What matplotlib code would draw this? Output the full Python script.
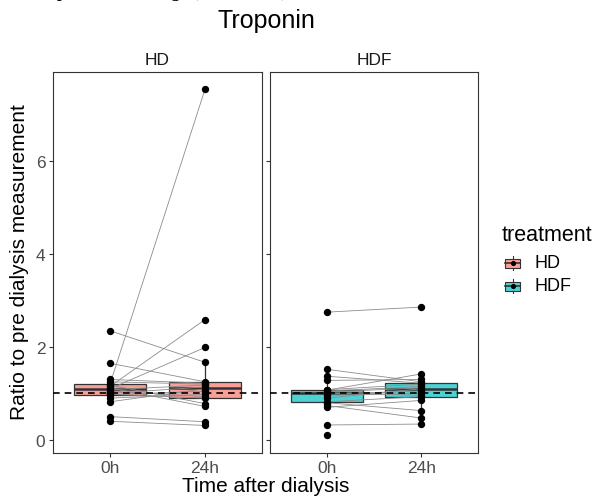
import numpy as np
import matplotlib.pyplot as plt
from matplotlib.patches import Rectangle
from matplotlib.colors import to_rgb

plt.rcParams['font.family'] = ['Liberation Sans', 'DejaVu Sans']

times = ['0h', '24h']
treatments = ['HD', 'HDF']
fill_colors = {'HD': '#F8766D', 'HDF': '#00BFC4'}

# ratio to pre dialysis value, one entry per patient (0h, 24h)
hd_0h = [2.35, 1.65, 1.20, 1.15, 1.10, 0.50, 0.40, 1.30, 1.25, 1.18, 1.12,
         1.08, 1.05, 1.00, 0.98, 0.97, 0.90, 0.82]
hd_24h = [1.67, 1.25, 7.55, 2.59, 1.99, 0.39, 0.31, 1.22, 1.20, 0.78, 0.72,
          1.18, 0.93, 1.14, 0.90, 1.05, 0.98, 1.10]
hdf_0h = [2.75, 1.52, 1.37, 1.28, 1.08, 1.07, 1.05, 1.03, 1.01, 0.99, 0.96,
          0.90, 0.82, 0.80, 0.74, 0.70, 0.32, 0.10]
hdf_24h = [2.86, 1.25, 1.22, 1.30, 1.20, 1.42, 1.15, 1.12, 0.96, 1.05, 1.00,
           1.10, 0.93, 0.63, 0.47, 0.85, 0.34, np.nan]

data = {'HD': (hd_0h, hd_24h), 'HDF': (hdf_0h, hdf_24h)}

W, H = 595, 502
fig = plt.figure(figsize=(W / 100, H / 100), dpi=100)


def px_axes(x0, y0, x1, y1):
    return fig.add_axes([x0 / W, 1 - y1 / H, (x1 - x0) / W, (y1 - y0) / H])


allv = np.array(hd_0h + hd_24h + hdf_0h + hdf_24h, dtype=float)
lo, hi = np.nanmin(allv), np.nanmax(allv)
pad = 0.05 * (hi - lo)

panels = {'HD': (53, 262), 'HDF': (270, 478)}
top, bottom = 73, 453.5
grey20 = '#333333'

for k, trt in enumerate(treatments):
    x0, x1 = panels[trt]
    ax = px_axes(x0, top, x1, bottom)
    v0 = np.array(data[trt][0], dtype=float)
    v1 = np.array(data[trt][1], dtype=float)
    rgb = to_rgb(fill_colors[trt])

    bp = ax.boxplot([v0[~np.isnan(v0)], v1[~np.isnan(v1)]], positions=[1, 2],
                    widths=0.76, patch_artist=True, showfliers=False,
                    showcaps=False, whis=1.5, zorder=1)
    for b in bp['boxes']:
        b.set_facecolor((*rgb, 0.7))
        b.set_edgecolor(grey20)
        b.set_linewidth(0.9)
    for m in bp['medians']:
        m.set_color(grey20)
        m.set_linewidth(1.8)
    for w in bp['whiskers']:
        w.set_color(grey20)
        w.set_linewidth(0.9)

    for a, b in zip(v0, v1):
        if np.isnan(a) or np.isnan(b):
            continue
        ax.plot([1, 2], [a, b], color='#8C8C8C', lw=0.6, zorder=2)
    ax.scatter(np.ones(len(v0)), v0, s=28, color='black', zorder=3, linewidths=0)
    ax.scatter(np.full(len(v1), 2), v1, s=28, color='black', zorder=3, linewidths=0)

    ax.axhline(1, color='black', ls=(0, (4, 3)), lw=1.2, zorder=4)

    ax.set_xlim(0.4, 2.6)
    ax.set_ylim(lo - pad, hi + pad)
    ax.set_xticks([1, 2])
    ax.set_xticklabels(times)
    ax.set_yticks([0, 2, 4, 6])
    if k > 0:
        ax.set_yticklabels([])
        ax.tick_params(axis='y', length=0)
    ax.tick_params(colors=grey20, labelcolor='#4D4D4D', labelsize=12.5,
                   length=3, width=0.8, pad=2.5)
    for s in ax.spines.values():
        s.set_color(grey20)
        s.set_linewidth(0.8)
    ax.text(0.5, 1.012, trt, transform=ax.transAxes, ha='center', va='bottom',
            fontsize=12.5, color='#1A1A1A')

# overlay axes in pixel coordinates for titles and legend
lax = fig.add_axes([0, 0, 1, 1], facecolor='none')
lax.set_xlim(0, W)
lax.set_ylim(H, 0)
lax.axis('off')

lax.text(38, -4, 'Top: ratio during  (continued)', fontsize=15,
         family=['Liberation Serif', 'DejaVu Serif'], style='italic',
         va='baseline', ha='left', clip_on=False)
lax.text(266, 21, 'Troponin', fontsize=18, ha='center', va='center')
lax.text(266, 487, 'Time after dialysis', fontsize=15, ha='center', va='center')
lax.text(20, 262, 'Ratio to pre dialysis measurement', fontsize=15,
         ha='center', va='center', rotation=90)

lax.text(502, 236, 'treatment', fontsize=15.5, ha='left', va='center')
for trt, cy in zip(treatments, [264, 287]):
    rgb = to_rgb(fill_colors[trt])
    lax.add_patch(Rectangle((505, cy - 4.5), 15, 9, facecolor=(*rgb, 0.7),
                            edgecolor=grey20, lw=0.8))
    lax.plot([512.5, 512.5], [cy - 7, cy - 4.5], color=grey20, lw=0.8)
    lax.plot([512.5, 512.5], [cy + 4.5, cy + 7], color=grey20, lw=0.8)
    lax.plot([505, 520], [cy, cy], color=grey20, lw=1.2)
    lax.scatter([512.5], [cy], s=14, color='black', zorder=5, linewidths=0)
    lax.text(535, cy, trt, fontsize=13, ha='left', va='center')

fig.savefig('out.png', dpi=100)
